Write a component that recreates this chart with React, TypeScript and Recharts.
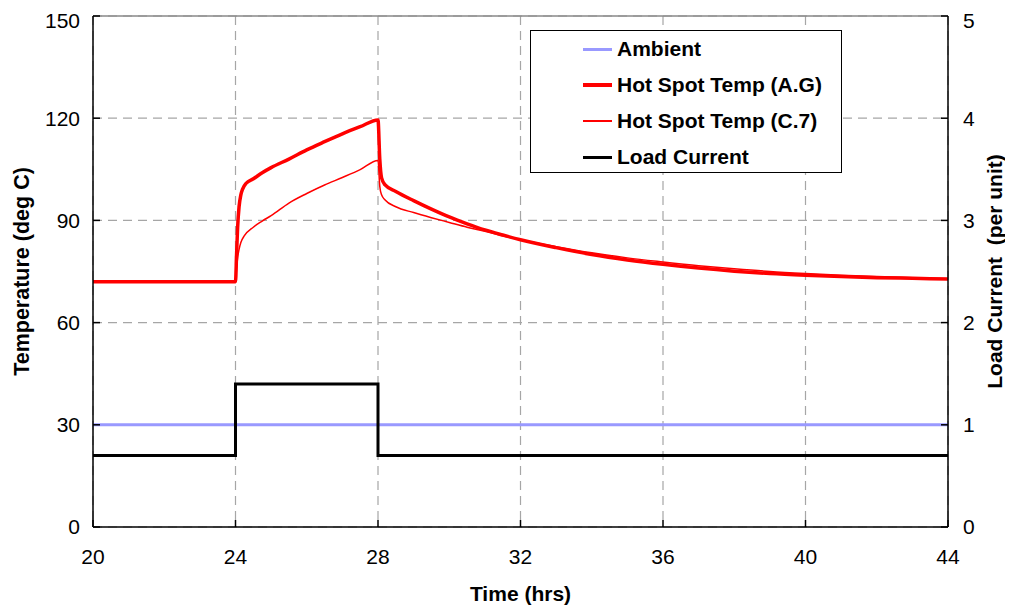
import { LineChart, Line, XAxis, YAxis, CartesianGrid, ReferenceLine, Legend } from 'recharts';

const X_TICKS = [20, 24, 28, 32, 36, 40, 44];
const TEMP_TICKS = [0, 30, 60, 90, 120, 150];
const CURRENT_TICKS = [0, 1, 2, 3, 4, 5];

const AMBIENT_T = [20, 44];
const AMBIENT_V = [30, 30];

const LOAD_T = [20, 24, 28, 44];
const LOAD_V = [0.7, 1.4, 0.7, 0.7];

const HOT_AG_T = [20, 24, 24.03, 24.06, 24.1, 24.15, 24.2, 24.3, 24.5, 24.75, 25, 25.5, 26, 26.5, 27, 27.5, 28,
    28.05, 28.1, 28.2, 28.5, 29, 29.5, 30, 30.5, 31, 31.5, 32, 33, 34, 35, 36, 37, 38, 39, 40, 41, 42, 43, 44];
const HOT_AG_V = [72, 72, 80, 88, 94, 97.5, 99.2, 100.9, 102.2, 104, 105.5, 108, 110.7, 113.1, 115.4, 117.5, 119.5,
    108, 102.5, 100.4, 98.5, 95.8, 93.3, 91, 89, 87.2, 85.7, 84.3, 82, 80, 78.4, 77.1, 76, 75.1, 74.4, 73.9, 73.5, 73.2, 73, 72.8];

const HOT_C7_T = [20, 24, 24.03, 24.06, 24.1, 24.15, 24.25, 24.5, 24.75, 25, 25.5, 26, 26.5, 27, 27.5, 28,
    28.05, 28.1, 28.2, 28.5, 29, 29.5, 30, 30.5, 31, 31.5, 32, 33, 34, 35, 36, 37, 38, 39, 40, 41, 42, 43, 44];
const HOT_C7_V = [72, 72, 76, 79, 81.5, 83.5, 85.5, 88, 89.8, 91.4, 95.1, 97.9, 100.4, 102.6, 104.9, 107.6,
    100, 97.5, 96, 94, 92.3, 90.8, 89.4, 88, 86.8, 85.5, 84.3, 82.3, 80.5, 79, 77.8, 76.7, 75.8, 75, 74.4, 73.9, 73.5, 73.2, 72.9];

const toRows = (t: number[], v: number[]) => t.map((x, i) => ({ t: x, v: v[i] }));

const ambient = toRows(AMBIENT_T, AMBIENT_V);
const load = toRows(LOAD_T, LOAD_V);
const hotAG = toRows(HOT_AG_T, HOT_AG_V);
const hotC7 = toRows(HOT_C7_T, HOT_C7_V);

const LEGEND = [
    { name: 'Ambient', color: '#9999ff', width: 3 },
    { name: 'Hot Spot Temp (A.G)', color: '#ff0000', width: 3.5 },
    { name: 'Hot Spot Temp (C.7)', color: '#ff0000', width: 1.5 },
    { name: 'Load Current', color: '#000000', width: 3 },
];

const FONT = '"Liberation Sans", Arial, sans-serif';
const tick = { fill: '#000', fontSize: 21, fontFamily: FONT };

function LegendBox() {
    return (
        <div style={{
            width: 312, height: 143, boxSizing: 'border-box', border: '1.5px solid #000', background: '#fff',
            fontFamily: FONT, fontWeight: 'bold', fontSize: 21, color: '#000', position: 'relative',
        }}>
            {LEGEND.map((item, i) => (
                <div key={item.name} style={{ position: 'absolute', left: 52, top: 18 + i * 36 - 13, height: 26, display: 'flex', alignItems: 'center' }}>
                    <div style={{ width: 29, height: item.width, background: item.color, marginRight: 5 }} />
                    <span style={{ whiteSpace: 'nowrap' }}>{item.name}</span>
                </div>
            ))}
        </div>
    );
}

export default function App() {
    return (
        <LineChart width={1005} height={601} margin={{ top: 8, right: 20, bottom: 32, left: 25 }}>
            <CartesianGrid yAxisId="temp" stroke="#a6a6a6" strokeDasharray="9 6" strokeWidth={1.2} />
            <XAxis
                type="number"
                dataKey="t"
                domain={[20, 44]}
                ticks={X_TICKS}
                allowDataOverflow
                height={50}
                stroke="#000"
                strokeWidth={1.5}
                tickSize={-7}
                tickMargin={29}
                tick={tick}
                label={{
                    content: ({ viewBox }: any) => (
                        <text x={viewBox.x + viewBox.width / 2} y={viewBox.y + 66} textAnchor="middle" dominantBaseline="central"
                            fontFamily={FONT} fontWeight="bold" fontSize={21} fill="#000">Time (hrs)</text>
                    ),
                }}
            />
            <YAxis
                yAxisId="temp"
                domain={[0, 150]}
                ticks={TEMP_TICKS}
                width={60}
                stroke="#000"
                strokeWidth={1.5}
                tickSize={-7}
                tickMargin={20}
                tick={tick}
                label={{
                    content: ({ viewBox }: any) => {
                        const cx = viewBox.x - 11;
                        const cy = viewBox.y + viewBox.height / 2;
                        return (
                            <text x={cx} y={cy} transform={`rotate(-90 ${cx} ${cy})`} textAnchor="middle" dominantBaseline="central"
                                fontFamily={FONT} fontWeight="bold" fontSize={21.5} fill="#000">Temperature (deg C)</text>
                        );
                    },
                }}
            />
            <YAxis
                yAxisId="current"
                orientation="right"
                domain={[0, 5]}
                ticks={CURRENT_TICKS}
                width={45}
                stroke="#000"
                strokeWidth={1.5}
                tickSize={-7}
                tickMargin={22}
                tick={{ ...tick, textAnchor: 'start' }}
                label={{
                    content: ({ viewBox }: any) => {
                        const cx = viewBox.x + 46;
                        const cy = viewBox.y + viewBox.height / 2;
                        return (
                            <text x={cx} y={cy} transform={`rotate(-90 ${cx} ${cy})`} textAnchor="middle" dominantBaseline="central"
                                fontFamily={FONT} fontWeight="bold" fontSize={21} fill="#000" style={{ whiteSpace: 'pre' }}>Load Current  (per unit)</text>
                        );
                    },
                }}
            />
            <ReferenceLine yAxisId="temp" y={150} stroke="#888" strokeWidth={1.5} />
            <Line yAxisId="temp" data={ambient} dataKey="v" stroke="#9999ff" strokeWidth={3} dot={false} isAnimationActive={false} />
            <Line yAxisId="current" data={load} dataKey="v" type="stepAfter" stroke="#000" strokeWidth={3} dot={false} isAnimationActive={false} />
            <Line yAxisId="temp" data={hotC7} dataKey="v" type="monotone" stroke="#ff0000" strokeWidth={1.5} dot={false} isAnimationActive={false} />
            <Line yAxisId="temp" data={hotAG} dataKey="v" type="monotone" stroke="#ff0000" strokeWidth={3.5} dot={false} isAnimationActive={false} />
            <Legend
                layout="horizontal"
                verticalAlign="middle"
                align="center"
                content={() => <LegendBox />}
                wrapperStyle={{ left: 522, top: 22, width: 312, height: 143 }}
            />
        </LineChart>
    );
}
